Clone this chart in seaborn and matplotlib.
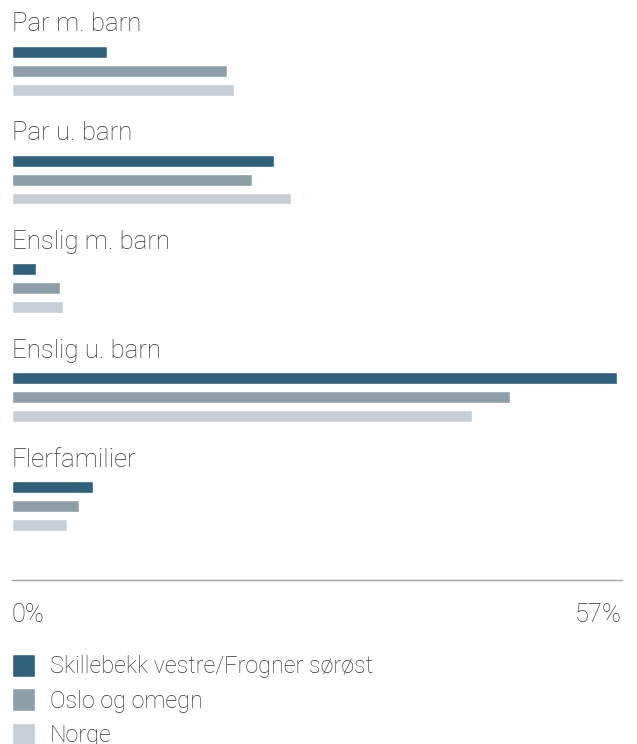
import pandas as pd
import matplotlib.pyplot as plt
import seaborn as sns

# Data (percent)
categories = ['Par m. barn', 'Par u. barn', 'Enslig m. barn', 'Enslig u. barn', 'Flerfamilier']
series = ['Skillebekk vestre/Frogner sørøst', 'Oslo og omegn', 'Norge']
skillebekk = [8.9, 24.5, 2.2, 56.5, 7.6]
oslo = [20.1, 22.4, 4.5, 46.5, 6.3]
norge = [20.7, 26.1, 4.8, 43.0, 5.1]
colors = ['#31617a', '#8e9ea6', '#c6cfd5']
x_max = 57
tick_labels = ['0%', '57%']

# Long format for seaborn
df = pd.DataFrame({
    'kategori': categories * 3,
    'serie': [series[0]] * 5 + [series[1]] * 5 + [series[2]] * 5,
    'andel': skillebekk + oslo + norge,
})

sns.set_style('white')
plt.rcParams['font.family'] = ['Roboto', 'DejaVu Sans']
plt.rcParams['font.weight'] = 'light'
text_color = '#333333'

fig = plt.figure(figsize=(6.37, 7.44), dpi=100)
ax = fig.add_axes([12 / 637, 1 - 580 / 744, 610 / 637, 580 / 744])

sns.barplot(data=df, y='kategori', x='andel', hue='serie', order=categories,
            hue_order=series, palette=colors, orient='h', width=0.523, gap=0.37,
            saturation=1, errorbar=None, ax=ax, legend=True)

ax.set_xlim(0, x_max)
ax.set_ylim(4.68, -0.65)
ax.set_xlabel('')
ax.set_ylabel('')
ax.set_yticks([])

# Category labels above each group
for i, cat in enumerate(categories):
    ax.text(0, i - 0.362, cat, fontsize=18.6, color=text_color, va='baseline', ha='left',
            fontweight='light')

# x axis: only a thin line with 0% and 57%
for side in ['top', 'right', 'left']:
    ax.spines[side].set_visible(False)
ax.spines['bottom'].set_color('#a6a6a6')
ax.spines['bottom'].set_linewidth(1)
ax.set_xticks([0, x_max])
ax.set_xticklabels(tick_labels, fontsize=18.4, color=text_color, fontweight='light')
ax.tick_params(axis='x', length=0, pad=30)
labels = ax.get_xticklabels()
labels[0].set_ha('left')
labels[1].set_ha('right')
for lab in labels:
    lab.set_va('baseline')

# Legend below the chart
handles, names = ax.get_legend_handles_labels()
ax.legend_.remove()
leg = fig.legend(handles, names, loc='upper left', bbox_to_anchor=(12 / 637, 1 - 654 / 744),
                 frameon=False, fontsize=16.8, handlelength=0.99, handleheight=1.15,
                 handletextpad=0.64, labelspacing=0.42, borderaxespad=0, borderpad=0)
for t in leg.get_texts():
    t.set_color(text_color)

fig.savefig('out.png', dpi=100)
